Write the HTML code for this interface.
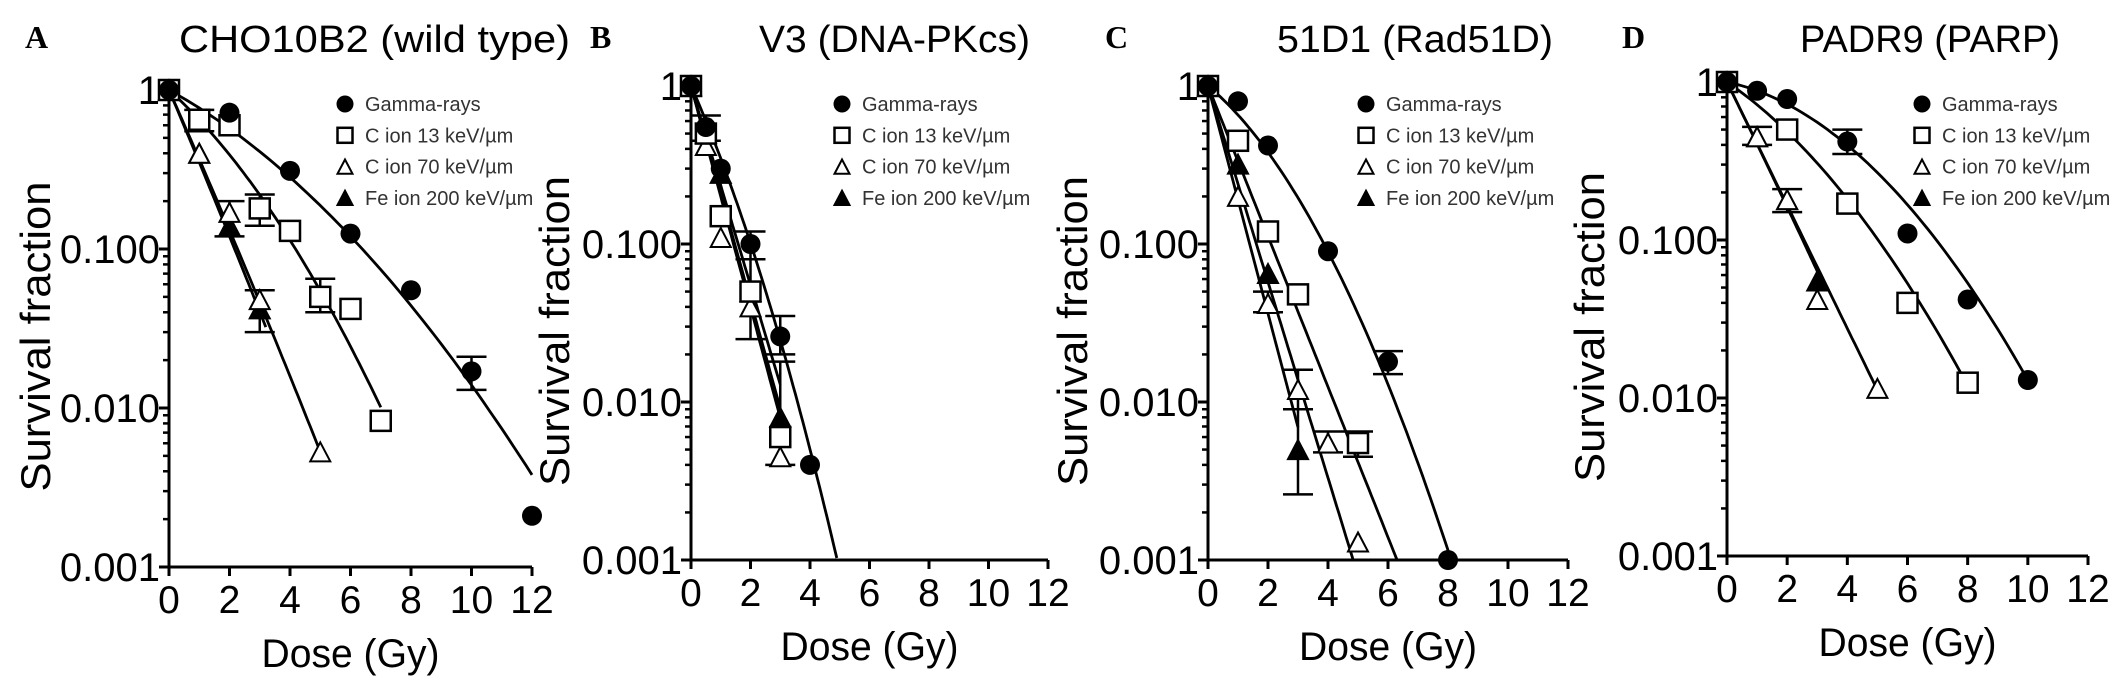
<!DOCTYPE html>
<html><head><meta charset="utf-8"><style>
html,body{margin:0;padding:0;background:#fff;}
svg{display:block;}
</style></head><body>
<svg id="fig" width="2126" height="686" xmlns="http://www.w3.org/2000/svg" font-family="Liberation Sans, sans-serif"></svg>
<script>
// ---- data ----
const panelLetters = ["A","B","C","D"];
const panelTitles = ["CHO10B2 (wild type)","V3 (DNA-PKcs)","51D1 (Rad51D)","PADR9 (PARP)"];
const seriesNames = ["Gamma-rays","C ion 13 keV/\u00b5m","C ion 70 keV/\u00b5m","Fe ion 200 keV/\u00b5m"];
const xTicks = [0,2,4,6,8,10,12];
const yTickVals = [1,0.1,0.01,0.001];
const yTickLabels = ["1","0.100","0.010","0.001"];

// Panel A
const aGammaDose = [0,2,4,6,8,10,12];
const aGammaSF = [1,0.72,0.31,0.125,0.055,0.017,0.0021];
const aC13Dose = [0,1,2,3,4,5,6,7];
const aC13SF = [1,0.65,0.6,0.18,0.13,0.05,0.042,0.0083];
const aC70Dose = [0,1,2,3,5];
const aC70SF = [1,0.4,0.17,0.048,0.0053];
const aFeDose = [0,1,2,3];
const aFeSF = [1,0.4,0.14,0.042];
// Panel B
const bGammaDose = [0,0.5,1,2,3,4];
const bGammaSF = [1,0.55,0.3,0.1,0.026,0.004];
const bC13Dose = [0,0.5,1,2,3];
const bC13SF = [1,0.5,0.15,0.05,0.006];
const bC70Dose = [0,0.5,1,2,3];
const bC70SF = [1,0.42,0.11,0.04,0.0045];
const bFeDose = [0,0.5,1,2,3];
const bFeSF = [1,0.5,0.28,0.05,0.008];
// Panel C
const cGammaDose = [0,1,2,4,6,8];
const cGammaSF = [1,0.8,0.42,0.09,0.018,0.001];
const cC13Dose = [0,1,2,3,5];
const cC13SF = [1,0.45,0.12,0.048,0.0055];
const cC70Dose = [0,1,2,3,4,5];
const cC70SF = [1,0.2,0.042,0.012,0.0055,0.0013];
const cFeDose = [0,1,2,3];
const cFeSF = [1,0.32,0.065,0.005];
// Panel D
const dGammaDose = [0,1,2,4,6,8,10];
const dGammaSF = [1,0.88,0.78,0.42,0.11,0.042,0.013];
const dC13Dose = [0,2,4,6,8];
const dC13SF = [1,0.5,0.17,0.04,0.0125];
const dC70Dose = [0,1,2,3,5];
const dC70SF = [1,0.45,0.18,0.042,0.0115];
const dFeDose = [0,1,2,3];
const dFeSF = [1,0.45,0.18,0.055];

// LQ fits: log10 SF = -(c1*D + c2*D^2), drawn up to maxDose
const aFitC1 = [0.105,0.171,0.43,0.45], aFitC2 = [0.00806,0.0163,0.005,0.005], aFitMax = [12,7,5,3.2];
const bFitC1 = [0.42,0.63,0.70,0.68], bFitC2 = [0.0387,0,0,0], bFitMax = [4.9,3,3,3];
const cFitC1 = [0.157,0.476,0.62,0.72], cFitC2 = [0.0263,0,0,0], cFitMax = [8.1,6.3,4.85,3];
const dFitC1 = [0.0407,0.13,0.39,0.39], dFitC2 = [0.0148,0.01375,0,0.003], dFitMax = [10,8,5,3.1];

// error bars: [seriesIndex, dose, low, high]
const aErr = [[1,1,0.55,0.75],[1,3,0.14,0.22],[1,5,0.04,0.065],[2,2,0.12,0.2],[3,3,0.03,0.055],[0,10,0.013,0.021]];
const bErr = [[0,0.5,0.45,0.65],[0,2,0.08,0.12],[0,3,0.02,0.035],[1,2,0.025,0.08],[1,3,0.004,0.018]];
const cErr = [[0,6,0.015,0.021],[2,2,0.037,0.05],[2,3,0.009,0.016],[3,3,0.0026,0.009],[1,5,0.0045,0.0065],[2,4,0.0048,0.0065]];
const dErr = [[0,4,0.35,0.5],[2,1,0.4,0.52],[3,2,0.15,0.21]];

// ---- layout ----
const panels = [
 {x0:169,x12:532,yT:90,yB:567, leg:176, data:[[aGammaDose,aGammaSF],[aC13Dose,aC13SF],[aC70Dose,aC70SF],[aFeDose,aFeSF]], c1:aFitC1,c2:aFitC2,mx:aFitMax, err:aErr, lx:25, tx:179, tw:391, ylx:36},
 {x0:691,x12:1048,yT:86,yB:560, leg:151, data:[[bGammaDose,bGammaSF],[bC13Dose,bC13SF],[bC70Dose,bC70SF],[bFeDose,bFeSF]], c1:bFitC1,c2:bFitC2,mx:bFitMax, err:bErr, lx:590, tx:759, tw:271, ylx:555},
 {x0:1208,x12:1568,yT:86,yB:560, leg:158, data:[[cGammaDose,cGammaSF],[cC13Dose,cC13SF],[cC70Dose,cC70SF],[cFeDose,cFeSF]], c1:cFitC1,c2:cFitC2,mx:cFitMax, err:cErr, lx:1105, tx:1277, tw:276, ylx:1073},
 {x0:1727,x12:2088,yT:82,yB:556, leg:195, data:[[dGammaDose,dGammaSF],[dC13Dose,dC13SF],[dC70Dose,dC70SF],[dFeDose,dFeSF]], c1:dFitC1,c2:dFitC2,mx:dFitMax, err:dErr, lx:1622, tx:1800, tw:260, ylx:1590}
];
const NS = "http://www.w3.org/2000/svg";
const svg = document.getElementById("fig");
function mk(tag, attrs, parent, txt){
  const e = document.createElementNS(NS, tag);
  for (const k in attrs) e.setAttribute(k, attrs[k]);
  if (txt !== undefined) e.textContent = txt;
  parent.appendChild(e); return e;
}
function marker(g, kind, cx, cy, s){
  let e;
  if (kind===0) e = mk("circle",{cx:cx,cy:cy,r:s/2,fill:"#000"},g);
  else if (kind===1) e = mk("rect",{x:cx-s/2,y:cy-s/2,width:s,height:s,fill:"#fff",stroke:"#000","stroke-width":2.5},g);
  else { const h=s*0.95; e = mk("polygon",{points:`${cx},${cy-h/2} ${cx+s/2},${cy+h/2} ${cx-s/2},${cy+h/2}`,fill:kind===2?"#fff":"#000",stroke:"#000","stroke-width":2},g); }
  return e;
}
const seriesKeys = ["gamma","c13","c70","fe"];
panels.forEach((p, pi) => {
  const X = d => p.x0 + (p.x12 - p.x0) * d / 12;
  const Y = v => p.yT + (p.yB - p.yT) * (-Math.log10(v)) / 3;
  const g = mk("g",{},svg);
  
  
  const L = mk("text",{x:p.lx,y:48,"font-family":"Liberation Serif, serif","font-weight":"bold","font-size":32},g,panelLetters[pi]);
  
  
  const T = mk("text",{x:p.tx,y:52,"font-size":38,textLength:p.tw,lengthAdjust:"spacingAndGlyphs"},g,panelTitles[pi]);
  
  
  const YT = mk("text",{x:0,y:0,"font-size":42,"text-anchor":"middle",textLength:310,lengthAdjust:"spacingAndGlyphs",transform:`translate(${p.ylx+14},${(p.yT+p.yB)/2+8}) rotate(-90)`},g,"Survival fraction");
  
  
  const XT = mk("text",{x:(p.x0+p.x12)/2,y:p.yB+100,"font-size":40,"text-anchor":"middle",textLength:178,lengthAdjust:"spacingAndGlyphs"},g,"Dose (Gy)");
  
  
  // axes
  const ax = mk("path",{d:`M${p.x0},${p.yT-4} V${p.yB} H${p.x12}`,fill:"none",stroke:"#000","stroke-width":3},g);
  
  
  xTicks.forEach(t => {
    mk("line",{x1:X(t),x2:X(t),y1:p.yB,y2:p.yB+9,stroke:"#000","stroke-width":3},g);
    const tl = mk("text",{x:X(t),y:p.yB+46,"font-size":39,"text-anchor":"middle"},g,String(t));
    
    
  });
  yTickVals.forEach((v,i) => {
    mk("line",{x1:p.x0-10,x2:p.x0,y1:Y(v),y2:Y(v),stroke:"#000","stroke-width":3},g);
    const tl = mk("text",{x:p.x0-9,y:Y(v)+14,"font-size":40,"text-anchor":"end"},g,yTickLabels[i]);
    
    
    if (i < 3) for (let m=2; m<=9; m++) {
      const vv = v/10*m;
      mk("line",{x1:p.x0-6,x2:p.x0,y1:Y(vv),y2:Y(vv),stroke:"#000","stroke-width":2.5},g);
    }
  });
  // fits
  for (let s=0;s<4;s++){
    let d="";
    for (let k=0;k<=60;k++){ const D = p.mx[s]*k/60; const ls = -(p.c1[s]*D + p.c2[s]*D*D); d += (k?"L":"M") + X(D).toFixed(1)+","+(p.yT+(p.yB-p.yT)*(-ls)/3).toFixed(1); }
    const f = mk("path",{d:d,fill:"none",stroke:"#000","stroke-width":2.8},g);
    
    
  }
  // error bars
  p.err.forEach(e => {
    const x = X(e[1]);
    mk("path",{d:`M${x},${Y(e[2])}V${Y(e[3])}M${x-15},${Y(e[2])}h30M${x-15},${Y(e[3])}h30`,stroke:"#000","stroke-width":2.5,fill:"none"},g);
  });
  // points
  for (let s=3;s>=0;s--){
    const [ds, vs] = p.data[s];
    ds.forEach((dd,k) => {
      const m = marker(g, s, X(dd), Y(vs[k]), 20);
      
      
    });
  }
  // legend
  seriesNames.forEach((n,s) => {
    const y = 104 + s*31.3;
    const lm = marker(g, s, p.x0 + p.leg, y, s===0?17:15);
    
    
    const lt = mk("text",{x:p.x0+p.leg+20,y:y+7,"font-size":20,fill:"#333"},g,n);
    
    
  });
});
</script>
</body></html>
